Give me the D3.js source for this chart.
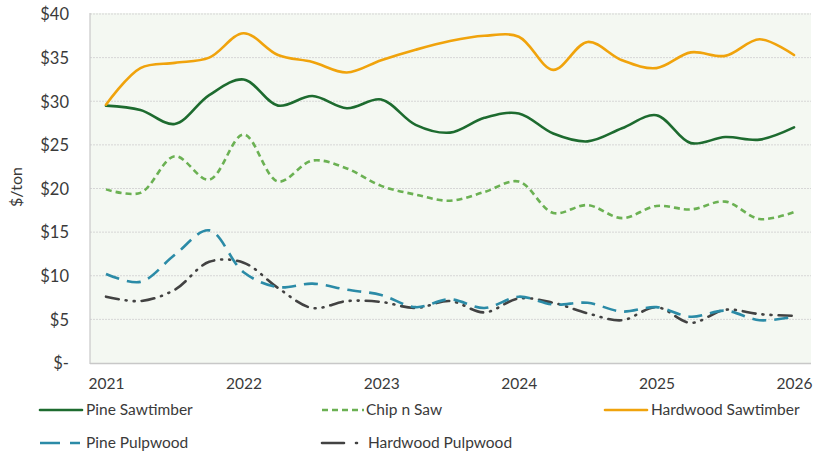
<!DOCTYPE html>
<html><head><meta charset="utf-8">
<script src="https://cdn.jsdelivr.net/npm/d3@7"></script>
<style>body{margin:0;background:#fff}svg{display:block}text{font-family:Lato,"Open Sans",sans-serif;fill:#3a3a3a}</style>
</head><body><svg id="c" width="827" height="456"></svg>
<script>
const periods = [2021,2021.25,2021.5,2021.75,2022,2022.25,2022.5,2022.75,2023,2023.25,2023.5,2023.75,2024,2024.25,2024.5,2024.75,2025,2025.25,2025.5,2025.75,2026];
const pineSawtimber = [29.5,29.0,27.4,30.7,32.5,29.5,30.6,29.2,30.2,27.3,26.4,28.1,28.6,26.3,25.4,26.9,28.4,25.2,25.9,25.6,27.0];
const chipNSaw = [19.9,19.5,23.7,21.0,26.2,20.8,23.2,22.3,20.3,19.3,18.6,19.6,20.8,17.2,18.1,16.6,18.0,17.6,18.5,16.5,17.3];
const hardwoodSawtimber = [29.6,33.8,34.4,35.0,37.8,35.3,34.5,33.3,34.7,35.9,36.9,37.5,37.4,33.6,36.8,34.7,33.8,35.6,35.2,37.1,35.3];
const pinePulpwood = [10.2,9.3,12.4,15.2,10.4,8.7,9.1,8.4,7.8,6.4,7.3,6.3,7.6,6.7,6.9,5.9,6.4,5.3,6.0,4.9,5.3];
const hardwoodPulpwood = [7.6,7.1,8.4,11.6,11.5,8.6,6.3,7.1,7.0,6.3,7.1,5.8,7.4,6.9,5.7,4.9,6.4,4.6,6.1,5.6,5.4];
const yTicks = [0,5,10,15,20,25,30,35,40];
const yTickLabels = ["$-","$5","$10","$15","$20","$25","$30","$35","$40"];
const xTicks = [2021,2022,2023,2024,2025,2026];
const seriesNames = ["Pine Sawtimber","Chip n Saw","Hardwood Sawtimber","Pine Pulpwood","Hardwood Pulpwood"];

const styles = {
  "Pine Sawtimber":{color:"#1d6b2f",dash:null,cap:"round"},
  "Chip n Saw":{color:"#6bb153",dash:"6,4",cap:"butt"},
  "Hardwood Sawtimber":{color:"#f0a30c",dash:null,cap:"round"},
  "Pine Pulpwood":{color:"#2b8ba7",dash:"14,8",cap:"butt"},
  "Hardwood Pulpwood":{color:"#424242",dash:"13,7,1,7,1,7",cap:"round"}
};
const seriesData = {
  "Pine Sawtimber":pineSawtimber,"Chip n Saw":chipNSaw,"Hardwood Sawtimber":hardwoodSawtimber,
  "Pine Pulpwood":pinePulpwood,"Hardwood Pulpwood":hardwoodPulpwood
};

const svg = d3.select("#c");
const plot = {l:90,r:811,t:13,b:363};
const x = d3.scaleLinear().domain([2021,2026]).range([106,794]);
const y = d3.scaleLinear().domain([0,40]).range([plot.b,14]);

svg.append("rect").attr("x",plot.l).attr("y",plot.t).attr("width",plot.r-plot.l).attr("height",plot.b-plot.t).attr("fill","#f4f8f2");

svg.append("g").selectAll("line").data(yTicks.filter(d=>d>0)).join("line")
  .attr("x1",plot.l).attr("x2",plot.r).attr("y1",d=>y(d)).attr("y2",d=>y(d))
  .attr("stroke","#d6d6d6").attr("stroke-width",1).attr("stroke-dasharray","2,1");
svg.append("line").attr("x1",plot.l).attr("x2",plot.l).attr("y1",plot.t).attr("y2",plot.b+1).attr("stroke","#c8c8c8").attr("stroke-width",1.2);
svg.append("line").attr("x1",plot.l).attr("x2",plot.r).attr("y1",plot.b+0.5).attr("y2",plot.b+0.5).attr("stroke","#c8c8c8").attr("stroke-width",1.5);

const yAxis = d3.axisLeft(y).tickValues(yTicks).tickFormat((d,i)=>yTickLabels[i]).tickSize(0).tickPadding(0);
const gy = svg.append("g").attr("transform","translate(69,0)").call(yAxis);
gy.select(".domain").remove();
gy.selectAll("text").style("font-size","16.5px").attr("fill","#3a3a3a").attr("dy","0.35em");

const xAxis = d3.axisBottom(x).tickValues(xTicks).tickFormat(d3.format("d")).tickSize(0).tickPadding(0);
const gx = svg.append("g").attr("transform","translate(0,378)").call(xAxis);
gx.select(".domain").remove();
gx.selectAll("text").style("font-size","15.5px").attr("fill","#3a3a3a").attr("dy","0.71em");

svg.append("text").attr("transform","translate(22,187) rotate(-90)").attr("text-anchor","middle")
  .style("font-size","16px").text("$/ton");

const line = d3.line().x((d,i)=>x(periods[i])).y(d=>y(d)).curve(d3.curveCatmullRom.alpha(0.5));
const drawOrder = ["Hardwood Pulpwood","Pine Pulpwood","Chip n Saw","Pine Sawtimber","Hardwood Sawtimber"];
drawOrder.forEach(n=>{
  const s = styles[n];
  svg.append("path").datum(seriesData[n]).attr("d",line).attr("fill","none")
    .attr("stroke",s.color).attr("stroke-width",2.6).attr("stroke-linecap",s.cap)
    .attr("stroke-linejoin","round").attr("stroke-dasharray",s.dash);
});

const legendPos = [
  {x:40,y:410},{x:322,y:410},{x:605,y:410},{x:40,y:443},{x:322,y:443}
];
seriesNames.forEach((n,i)=>{
  const p = legendPos[i], s = styles[n];
  const g = svg.append("g").attr("transform",`translate(${p.x},${p.y})`);
  g.append("line").attr("x1",0).attr("x2",42).attr("y1",0).attr("y2",0)
    .attr("stroke",s.color).attr("stroke-width",2.6).attr("stroke-linecap",s.cap)
    .attr("stroke-dasharray", n==="Pine Pulpwood" ? "20,10,10,20" : n==="Hardwood Pulpwood" ? "22,12,1,20" : s.dash);
  g.append("text").attr("x", n==="Chip n Saw" ? 44 : 46).attr("y",0).attr("dy","0.35em")
    .style("font-size","15.5px").text(n);
});
</script></body></html>
